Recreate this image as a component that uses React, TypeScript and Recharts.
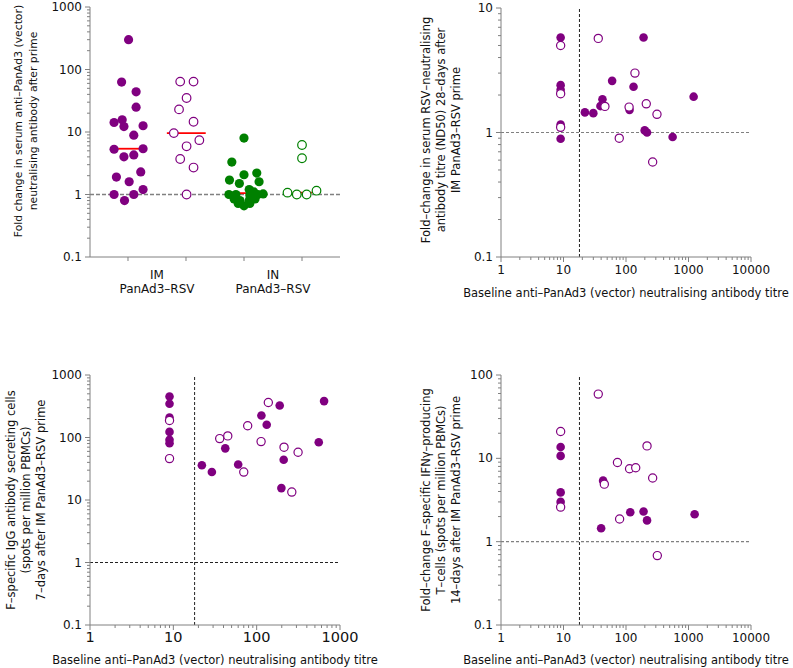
import React from 'react';
import { ScatterChart, Scatter, XAxis, YAxis, ReferenceLine } from 'recharts';

const PURPLE = '#800080';
const GREEN = '#008000';
const RED = '#ff0000';
const AXIS = '#808080';
const INK = '#111111';
const FONT = '"DejaVu Sans", Verdana, sans-serif';

// ---------- Panel A: fold change in anti-PanAd3 (vector) nAb ----------
const groupCentres = [1, 2, 3, 4];
const groupLabelPos = [1.5, 3.5];
const groupLabels = [['IM', 'PanAd3–RSV'], ['IN', 'PanAd3–RSV']];

const imFilledFold = [300, 63, 44, 25, 14.2, 15.7, 12.2, 12.6, 8.9, 5.3, 5.4, 4.0, 4.3, 1.9, 2.3, 1.6, 1.2, 1.0, 1.0, 0.8];
const imFilledJitter = [0.01, -0.11, 0.14, 0.14, -0.24, -0.1, -0.07, 0.26, 0.1, -0.24, 0.26, -0.07, 0.1, -0.2, 0.22, 0.02, 0.26, -0.24, 0.1, -0.06];

const imOpenFold = [64, 64, 35, 23, 14.6, 9.6, 7.4, 5.9, 3.7, 2.7, 1.0];
const imOpenJitter = [-0.1, 0.13, 0.01, -0.12, 0.13, -0.21, 0.23, 0.01, -0.1, 0.13, 0.01];

const inFilledFold = [8.0, 3.3, 2.07, 2.2, 1.7, 1.5, 1.6, 1.2, 1.1, 1.0, 1.0, 1.0, 1.02, 0.98, 0.85, 0.85, 0.8, 0.8, 0.72, 0.72, 0.66];
const inFilledJitter = [0.0, -0.21, 0.0, 0.22, -0.25, -0.08, 0.26, 0.09, 0.17, -0.26, -0.14, 0.24, 0.33, 0.1, -0.17, 0.19, -0.07, 0.09, -0.1, 0.1, 0.0];

const inOpenFold = [6.2, 3.8, 1.07, 1.0, 1.0, 1.15];
const inOpenJitter = [0, 0, -0.25, -0.09, 0.08, 0.25];

const medianFold = [5.4, 9.6, 1.05, 1.07];
const medianFrom = [-0.17, -0.33, -0.3, -0.16];
const medianTo = [0.19, 0.34, 0.3, 0.17];

// ---------- Panel B: RSV nAb fold change vs baseline ----------
const bFilledX = [9, 9, 9, 9, 9, 191, 60, 132, 1208, 22, 30, 42, 39, 114, 199, 217, 557];
const bFilledY = [5.8, 2.4, 2.2, 1.16, 0.89, 5.8, 2.6, 2.33, 1.94, 1.45, 1.43, 1.85, 1.63, 1.52, 1.04, 1.0, 0.92];
const bOpenX = [9, 9, 9, 36, 139, 46, 112, 211, 313, 78, 267];
const bOpenY = [5.0, 2.05, 1.1, 5.7, 3.0, 1.62, 1.6, 1.7, 1.4, 0.9, 0.58];

// ---------- Panel C: F-specific IgG ASC vs baseline ----------
const cFilledX = [9, 9, 9, 9, 9, 9, 22, 29, 42, 60, 114, 132, 189, 211, 198, 556, 644];
const cFilledY = [453, 346, 209, 123, 92, 81, 36, 28, 67, 37, 225, 160, 325, 44, 15.5, 84, 382];
const cOpenX = [9, 9, 36, 45, 70, 78, 113, 138, 213, 314, 264];
const cOpenY = [187, 46, 96, 106, 28, 154, 86, 363, 70, 58, 13.4];

// ---------- Panel D: IFNγ T-cell fold change vs baseline ----------
const dFilledX = [9, 9, 9, 9, 43, 40, 117, 191, 217, 1253];
const dFilledY = [13.7, 10.7, 3.9, 3.0, 5.4, 1.45, 2.25, 2.3, 1.8, 2.13];
const dOpenX = [36, 9, 9, 73, 114, 143, 217, 267, 45, 79, 317];
const dOpenY = [59, 21, 2.6, 8.9, 7.5, 7.7, 14.1, 5.8, 4.9, 1.87, 0.68];

const baselineCutoff = 18;

const titleA = ['Fold change in serum anti–PanAd3 (vector)', 'neutralising antibody after prime'];
const titleB = ['Fold–change in serum RSV–neutralising', 'antibody titre (ND50) 28–days after', 'IM PanAd3–RSV prime'];
const titleC = ['F–specific IgG antibody secreting cells', '(spots per million PBMCs)', '7–days after IM PanAd3–RSV prime'];
const titleD = ['Fold–change F–specific IFNγ–producing', 'T–cells (spots per million PBMCs)', '14–days after IM PanAd3–RSV prime'];
const xTitle = 'Baseline anti–PanAd3 (vector) neutralising antibody titre';

// ---------- helpers ----------
function logTicks(loExp: number, hiExp: number): number[] {
  const out: number[] = [];
  for (let e = loExp; e < hiExp; e++) {
    for (let m = 1; m < 10; m++) out.push(Number((m * Math.pow(10, e)).toPrecision(2)));
  }
  out.push(Number(Math.pow(10, hiExp).toPrecision(2)));
  return out;
}
const isMajor = (v: number) => {
  const l = Math.log10(v);
  return Math.abs(l - Math.round(l)) < 1e-9;
};
const fmt = (v: number) => (v < 1 ? v.toFixed(1) : String(Math.round(v)));

const pairs = (xs: number[], ys: number[]) => xs.map((x, i) => ({ x, y: ys[i] }));
const jittered = (centre: number, jit: number[], ys: number[]) => ys.map((y, i) => ({ x: centre + jit[i], y }));

const makeYTick = (fontSize: number) => (props: any) => {
  const { x, y, payload } = props;
  const v = payload.value;
  const major = isMajor(v);
  return (
    <g>
      <line x1={x} x2={x - (major ? 5 : 3)} y1={y} y2={y} stroke={AXIS} strokeWidth={1} />
      {major && (
        <text x={x - 8} y={y} textAnchor="end" dominantBaseline="central" fontSize={fontSize} fontFamily={FONT} fill={INK}>
          {fmt(v)}
        </text>
      )}
    </g>
  );
};

const makeXTick = (fontSize: number, dy: number) => (props: any) => {
  const { x, y, payload } = props;
  const v = payload.value;
  const major = isMajor(v);
  return (
    <g>
      <line x1={x} x2={x} y1={y} y2={y + (major ? 5 : 3)} stroke={AXIS} strokeWidth={1} />
      {major && (
        <text x={x} y={y + dy} textAnchor="middle" dominantBaseline="central" fontSize={fontSize} fontFamily={FONT} fill={INK}>
          {fmt(v)}
        </text>
      )}
    </g>
  );
};

const CategoryTick = (props: any) => {
  const { x, y, payload } = props;
  const v = payload.value;
  const gi = groupLabelPos.indexOf(v);
  if (gi < 0) {
    return <line x1={x} x2={x} y1={y} y2={y + 4} stroke={AXIS} strokeWidth={1} />;
  }
  return (
    <g>
      {groupLabels[gi].map((t, i) => (
        <text key={i} x={x} y={y + 18 + i * 14} textAnchor="middle" dominantBaseline="central" fontSize={12} fontFamily={FONT} fill={INK}>
          {t}
        </text>
      ))}
    </g>
  );
};

const yTitle = (lines: string[], xs: number[], cy: number, fontSize: number) => () => (
  <g>
    {lines.map((t, i) => (
      <text
        key={i}
        x={xs[i]}
        y={cy}
        transform={`rotate(-90, ${xs[i]}, ${cy})`}
        textAnchor="middle"
        dominantBaseline="central"
        fontSize={fontSize}
        fontFamily={FONT}
        fill={INK}
      >
        {t}
      </text>
    ))}
  </g>
);

const xTitleLabel = (cx: number, cy: number) => () => (
  <text x={cx} y={cy} textAnchor="middle" dominantBaseline="central" fontSize={11.5} fontFamily={FONT} fill={INK}>
    {xTitle}
  </text>
);

const filledDot = (color: string, r: number) => (p: any) => <circle cx={p.cx} cy={p.cy} r={r} fill={color} stroke="none" />;
const openDot = (color: string, r: number) => (p: any) => (
  <circle cx={p.cx} cy={p.cy} r={r} fill="#ffffff" stroke={color} strokeWidth={1.2} />
);

const axisLine = { stroke: AXIS, strokeWidth: 1 };

// ---------- panels ----------
const PanelA = () => {
  const medianCentres = groupCentres;
  return (
    <ScatterChart width={400} height={310} margin={{ top: 7, right: 60, bottom: 0, left: 0 }}>
      <XAxis
        dataKey="x"
        type="number"
        domain={[0.345, 4.655]}
        ticks={[1, 1.5, 2, 3, 3.5, 4]}
        interval={0}
        tick={CategoryTick}
        tickLine={false}
        tickSize={0}
        tickMargin={0}
        axisLine={axisLine}
        height={53}
        allowDataOverflow
      />
      <YAxis
        dataKey="y"
        type="number"
        scale="log"
        domain={[0.1, 1000]}
        ticks={logTicks(-1, 3)}
        interval={0}
        tick={makeYTick(12)}
        tickLine={false}
        tickSize={0}
        tickMargin={0}
        axisLine={axisLine}
        width={90}
        allowDataOverflow
        label={yTitle(titleA, [18, 33], 121, 10.8)}
      />
      <ReferenceLine y={1} stroke={AXIS} strokeWidth={1.5} strokeDasharray="4 2" />
      {medianFold.map((m, i) => (
        <ReferenceLine
          key={i}
          segment={[
            { x: medianCentres[i] + medianFrom[i], y: m },
            { x: medianCentres[i] + medianTo[i], y: m },
          ]}
          stroke={RED}
          strokeWidth={1.8}
        />
      ))}
      <Scatter data={jittered(groupCentres[0], imFilledJitter, imFilledFold)} isAnimationActive={false} shape={filledDot(PURPLE, 4.6)} />
      <Scatter data={jittered(groupCentres[1], imOpenJitter, imOpenFold)} isAnimationActive={false} shape={openDot(PURPLE, 4.3)} />
      <Scatter data={jittered(groupCentres[2], inFilledJitter, inFilledFold)} isAnimationActive={false} shape={filledDot(GREEN, 4.6)} />
      <Scatter data={jittered(groupCentres[3], inOpenJitter, inOpenFold)} isAnimationActive={false} shape={openDot(GREEN, 4.3)} />
    </ScatterChart>
  );
};

type ScatterPanelProps = {
  width: number;
  height: number;
  top: number;
  right: number;
  xAxisHeight: number;
  xHi: number;
  yLo: number;
  yHi: number;
  xTickFont: number;
  xTickDy: number;
  title: string[];
  titleXs: number[];
  titleCy: number;
  xTitleCx: number;
  xTitleCy: number;
  hLineColor: string;
  filled: { x: number; y: number }[];
  open: { x: number; y: number }[];
  yAxisWidth: number;
};

const ScatterPanel = (p: ScatterPanelProps) => (
  <ScatterChart width={p.width} height={p.height} margin={{ top: p.top, right: p.right, bottom: 0, left: 0 }}>
    <XAxis
      dataKey="x"
      type="number"
      scale="log"
      domain={[1, Math.pow(10, p.xHi)]}
      ticks={logTicks(0, p.xHi)}
      interval={0}
      tick={makeXTick(p.xTickFont, p.xTickDy)}
      tickLine={false}
      tickSize={0}
      tickMargin={0}
      axisLine={axisLine}
      height={p.xAxisHeight}
      allowDataOverflow
      label={xTitleLabel(p.xTitleCx, p.xTitleCy)}
    />
    <YAxis
      dataKey="y"
      type="number"
      scale="log"
      domain={[Math.pow(10, p.yLo), Math.pow(10, p.yHi)]}
      ticks={logTicks(p.yLo, p.yHi)}
      interval={0}
      tick={makeYTick(12)}
      tickLine={false}
      tickSize={0}
      tickMargin={0}
      axisLine={axisLine}
      width={p.yAxisWidth}
      allowDataOverflow
      label={yTitle(p.title, p.titleXs, p.titleCy, 11.5)}
    />
    <ReferenceLine y={1} stroke={p.hLineColor} strokeWidth={1.2} strokeDasharray="3 2" />
    <ReferenceLine x={baselineCutoff} stroke="#222222" strokeWidth={1} strokeDasharray="3 2" />
    <Scatter data={p.filled} isAnimationActive={false} shape={filledDot(PURPLE, 4.3)} />
    <Scatter data={p.open} isAnimationActive={false} shape={openDot(PURPLE, 4.1)} />
  </ScatterChart>
);

export default function App() {
  return (
    <div style={{ position: 'absolute', left: 0, top: 0, width: 793, height: 668, background: '#ffffff', fontFamily: FONT }}>
      <div style={{ position: 'absolute', left: 0, top: 0 }}>
        <PanelA />
      </div>
      <div style={{ position: 'absolute', left: 400, top: 0 }}>
        <ScatterPanel
          width={393}
          height={310}
          top={8}
          right={42}
          xAxisHeight={53}
          xHi={4}
          yLo={-1}
          yHi={1}
          xTickFont={12}
          xTickDy={13}
          title={titleB}
          titleXs={[26, 41, 56]}
          titleCy={130}
          xTitleCx={226}
          xTitleCy={293}
          hLineColor={AXIS}
          filled={pairs(bFilledX, bFilledY)}
          open={pairs(bOpenX, bOpenY)}
          yAxisWidth={101}
        />
      </div>
      <div style={{ position: 'absolute', left: 0, top: 360 }}>
        <ScatterPanel
          width={400}
          height={308}
          top={15}
          right={60}
          xAxisHeight={43}
          xHi={3}
          yLo={-1}
          yHi={3}
          xTickFont={14.5}
          xTickDy={12}
          title={titleC}
          titleXs={[11, 26, 41]}
          titleCy={140}
          xTitleCx={215}
          xTitleCy={300}
          hLineColor="#222222"
          filled={pairs(cFilledX, cFilledY)}
          open={pairs(cOpenX, cOpenY)}
          yAxisWidth={90}
        />
      </div>
      <div style={{ position: 'absolute', left: 400, top: 360 }}>
        <ScatterPanel
          width={393}
          height={308}
          top={15}
          right={42}
          xAxisHeight={43}
          xHi={4}
          yLo={-1}
          yHi={2}
          xTickFont={12}
          xTickDy={13}
          title={titleD}
          titleXs={[26, 41, 56]}
          titleCy={140}
          xTitleCx={226}
          xTitleCy={300}
          hLineColor={AXIS}
          filled={pairs(dFilledX, dFilledY)}
          open={pairs(dOpenX, dOpenY)}
          yAxisWidth={101}
        />
      </div>
    </div>
  );
}
